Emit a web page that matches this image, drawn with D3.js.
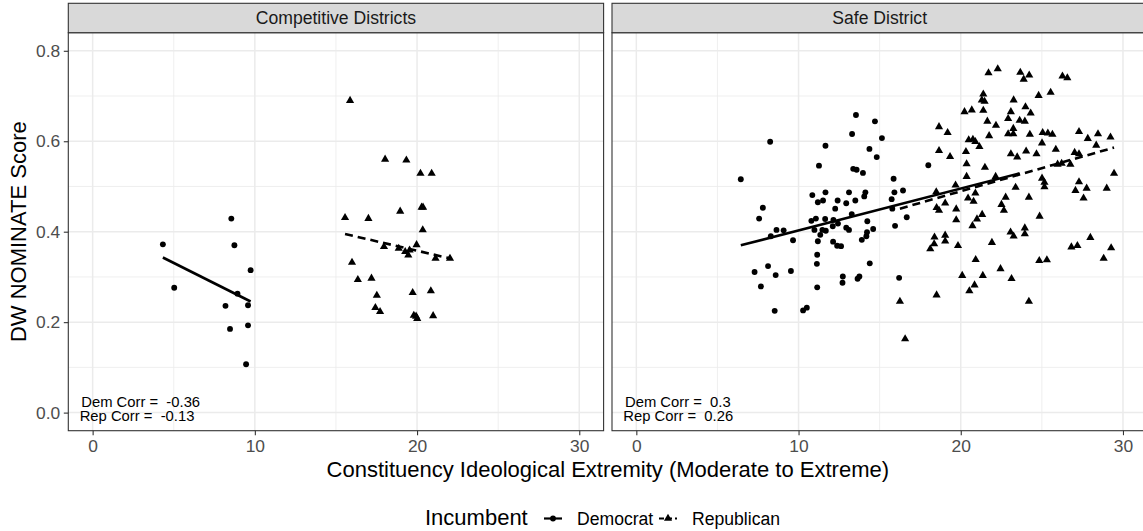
<!DOCTYPE html>
<html>
<head>
<meta charset="utf-8">
<script src="https://cdn.jsdelivr.net/npm/d3@7"></script>
<style>
  body { margin: 0; background: #ffffff; }
  svg { display: block; font-family: "Liberation Sans", Arial, Helvetica, sans-serif; }
</style>
</head>
<body>
<div id="vis"></div>
<script>
// ---- data ----
const PANELS = ["Competitive Districts", "Safe District"];

const compDemX = [4.33, 5.03, 8.55, 8.74, 9.74, 8.93, 8.19, 9.58, 8.47, 9.58, 9.46];
const compDemY = [0.372, 0.276, 0.429, 0.370, 0.315, 0.263, 0.236, 0.2375, 0.185, 0.193, 0.107];

const compRepX = [15.87, 18.03, 19.34, 20.21, 20.90, 20.37, 20.28, 18.96, 15.56, 17.00, 20.35, 19.97,
    17.96, 18.87, 19.27, 19.54, 19.46, 21.14, 22.03, 15.99, 17.19, 16.35, 19.73, 20.85, 17.52, 17.43,
    17.72, 19.80, 19.94, 20.01, 20.99];
const compRepY = [0.690, 0.560, 0.558, 0.529, 0.529, 0.454, 0.454, 0.445, 0.431, 0.429, 0.404, 0.371,
    0.367, 0.363, 0.356, 0.359, 0.348, 0.341, 0.341, 0.332, 0.297, 0.294, 0.265, 0.269, 0.259, 0.232,
    0.223, 0.215, 0.213, 0.208, 0.214];

const safeDemX = [6.44, 8.25, 7.80, 7.57, 8.64, 9.08, 8.29, 9.66, 7.29, 8.12, 7.68, 8.59, 9.53, 8.53,
    10.28, 10.51, 13.54, 14.71, 13.30, 15.14, 11.66, 14.37, 14.82, 11.26, 13.37, 13.58, 13.97, 15.86,
    18.00, 10.85, 11.66, 13.11, 14.12, 14.05, 15.91, 16.44, 11.19, 11.51, 12.41, 12.94, 13.50, 15.74,
    12.26, 15.78, 13.28, 10.79, 11.07, 11.64, 12.15, 12.43, 12.11, 10.98, 11.47, 11.68, 11.34, 12.94,
    13.11, 14.24, 14.60, 14.22, 14.18, 13.90, 15.95, 16.67, 11.19, 12.13, 12.38, 12.62, 11.15, 11.13,
    14.39, 12.73, 12.71, 13.75, 13.64, 11.15, 16.20];
const safeDemY = [0.516, 0.599, 0.453, 0.429, 0.404, 0.403, 0.390, 0.381, 0.311, 0.324, 0.279, 0.304,
    0.313, 0.225, 0.226, 0.232, 0.658, 0.644, 0.616, 0.607, 0.590, 0.583, 0.565, 0.546, 0.539, 0.537,
    0.530, 0.517, 0.547, 0.481, 0.487, 0.487, 0.487, 0.478, 0.487, 0.491, 0.465, 0.469, 0.469, 0.463,
    0.469, 0.472, 0.451, 0.451, 0.439, 0.424, 0.429, 0.428, 0.426, 0.418, 0.412, 0.404, 0.404, 0.402,
    0.393, 0.409, 0.404, 0.423, 0.406, 0.399, 0.390, 0.382, 0.413, 0.432, 0.379, 0.378, 0.369, 0.368,
    0.349, 0.329, 0.330, 0.301, 0.287, 0.301, 0.296, 0.277, 0.298];

const safeRepX = [21.71, 22.28, 23.67, 23.88, 24.22, 26.27, 26.57, 25.54, 24.80, 21.39, 21.30, 21.47,
    23.26, 23.99, 20.23, 20.68, 21.39, 23.09, 24.31, 22.92, 23.63, 23.95, 21.64, 22.17, 18.66, 19.19,
    23.24, 22.92, 23.24, 21.75, 24.26, 25.05, 25.37, 25.65, 27.29, 27.83, 28.46, 29.23, 20.49, 20.75,
    20.90, 21.15, 25.01, 28.35, 18.66, 20.32, 19.34, 23.09, 23.48, 24.03, 24.67, 25.86, 27.02, 27.29,
    20.36, 21.49, 25.97, 26.22, 26.76, 29.45, 20.36, 25.01, 25.16, 22.15, 25.16, 19.68, 23.38, 24.20,
    27.29, 27.07, 27.76, 27.57, 29.00, 20.90, 20.45, 20.79, 18.49, 19.04, 18.51, 18.66, 19.72, 22.77,
    22.51, 22.66, 21.32, 21.00, 19.72, 20.72, 24.86, 23.07, 23.26, 23.95, 23.95, 18.38, 19.04, 19.04,
    18.36, 18.12, 19.83, 21.92, 27.99, 26.82, 27.19, 29.27, 20.92, 24.84, 25.31, 28.81, 20.09, 21.36,
    22.45, 23.13, 20.85, 20.53, 18.51, 24.20, 16.25, 16.57];
const safeRepY = [0.751, 0.760, 0.752, 0.737, 0.746, 0.744, 0.740, 0.708, 0.701, 0.704, 0.691, 0.688,
    0.691, 0.676, 0.665, 0.669, 0.668, 0.665, 0.662, 0.650, 0.646, 0.644, 0.644, 0.635, 0.632, 0.619,
    0.628, 0.616, 0.616, 0.612, 0.615, 0.619, 0.618, 0.615, 0.621, 0.606, 0.616, 0.609, 0.603, 0.604,
    0.599, 0.588, 0.596, 0.591, 0.579, 0.577, 0.566, 0.572, 0.565, 0.578, 0.572, 0.582, 0.575, 0.572,
    0.550, 0.542, 0.549, 0.551, 0.549, 0.529, 0.522, 0.518, 0.509, 0.522, 0.499, 0.503, 0.498, 0.476,
    0.510, 0.491, 0.496, 0.474, 0.496, 0.485, 0.474, 0.467, 0.488, 0.463, 0.453, 0.447, 0.450, 0.476,
    0.460, 0.447, 0.438, 0.428, 0.426, 0.413, 0.434, 0.399, 0.390, 0.408, 0.395, 0.388, 0.392, 0.379,
    0.373, 0.362, 0.369, 0.376, 0.387, 0.366, 0.369, 0.364, 0.338, 0.336, 0.3375, 0.341, 0.303, 0.303,
    0.318, 0.296, 0.282, 0.269, 0.260, 0.246, 0.246, 0.163];

// linear fit end points (as drawn)
const compDemFitX = [4.33, 9.74], compDemFitY = [0.343, 0.2456];
const compRepFitX = [15.56, 22.03], compRepFitY = [0.395, 0.341];
const safeDemFitX = [6.44, 23.63], safeDemFitY = [0.370, 0.529];
const safeRepFitX = [16.25, 29.45], safeRepFitY = [0.451, 0.586];

const demCorr = ["-0.36", "0.3"];
const repCorr = ["-0.13", "0.26"];

const X_TICKS = [0, 10, 20, 30];
const X_MINOR = [5, 15, 25];
const Y_TICKS = [0, 0.2, 0.4, 0.6, 0.8];
const Y_MINOR = [0.1, 0.3, 0.5, 0.7];
const Y_LABELS = ["0.0", "0.2", "0.4", "0.6", "0.8"];

const LEGEND_TITLE = "Incumbent";
const LEGEND_LABELS = ["Democrat", "Republican"];

// ---- layout ----
const FRAME_WIDTH = 1143;
const FRAME_HEIGHT = 531;
const PANEL_LEFTS = [68.3, 612];
const PANEL_W = 535.3;
const STRIP_TOP = 3.3;
const PANEL_TOP = 32.7;
const PANEL_BOTTOM = 430.7;

const svg = d3.select("#vis").append("svg")
    .attr("width", FRAME_WIDTH)
    .attr("height", FRAME_HEIGHT);

const Y_SCALE = d3.scaleLinear().domain([-0.04, 0.84]).range([PANEL_BOTTOM, PANEL_TOP]);

const circle = d3.symbol().type(d3.symbolCircle).size(27);
const triangle = d3.symbol().type(d3.symbolTriangle).size(29);

function zip(xs, ys) { return xs.map((x, i) => ({x: x, y: ys[i]})); }

const panelData = [
    {dem: zip(compDemX, compDemY), rep: zip(compRepX, compRepY),
     demFit: zip(compDemFitX, compDemFitY), repFit: zip(compRepFitX, compRepFitY)},
    {dem: zip(safeDemX, safeDemY), rep: zip(safeRepX, safeRepY),
     demFit: zip(safeDemFitX, safeDemFitY), repFit: zip(safeRepFitX, safeRepFitY)}
];

panelData.forEach((pd, p) => {
    const left = PANEL_LEFTS[p];
    const X_SCALE = d3.scaleLinear().domain([-1.5, 31.5]).range([left, left + PANEL_W]);
    const g = svg.append("g");

    // background + grid
    g.append("rect").attr("x", left).attr("y", PANEL_TOP)
        .attr("width", PANEL_W).attr("height", PANEL_BOTTOM - PANEL_TOP).attr("fill", "#ffffff");
    g.selectAll(".vminor").data(X_MINOR).enter().append("line")
        .attr("x1", d => X_SCALE(d)).attr("x2", d => X_SCALE(d))
        .attr("y1", PANEL_TOP).attr("y2", PANEL_BOTTOM)
        .attr("stroke", "#EBEBEB").attr("stroke-width", 0.8);
    g.selectAll(".hminor").data(Y_MINOR).enter().append("line")
        .attr("x1", left).attr("x2", left + PANEL_W)
        .attr("y1", d => Y_SCALE(d)).attr("y2", d => Y_SCALE(d))
        .attr("stroke", "#EBEBEB").attr("stroke-width", 0.8);
    g.selectAll(".vmajor").data(X_TICKS).enter().append("line")
        .attr("x1", d => X_SCALE(d)).attr("x2", d => X_SCALE(d))
        .attr("y1", PANEL_TOP).attr("y2", PANEL_BOTTOM)
        .attr("stroke", "#EBEBEB").attr("stroke-width", 1.5);
    g.selectAll(".hmajor").data(Y_TICKS).enter().append("line")
        .attr("x1", left).attr("x2", left + PANEL_W)
        .attr("y1", d => Y_SCALE(d)).attr("y2", d => Y_SCALE(d))
        .attr("stroke", "#EBEBEB").attr("stroke-width", 1.5);

    // points
    g.selectAll(".dem").data(pd.dem).enter().append("path")
        .attr("d", circle)
        .attr("transform", d => "translate(" + X_SCALE(d.x) + "," + Y_SCALE(d.y) + ")")
        .attr("fill", "#000");
    g.selectAll(".rep").data(pd.rep).enter().append("path")
        .attr("d", triangle)
        .attr("transform", d => "translate(" + X_SCALE(d.x) + "," + Y_SCALE(d.y) + ")")
        .attr("fill", "#000");

    // fit lines
    const line = d3.line().x(d => X_SCALE(d.x)).y(d => Y_SCALE(d.y));
    g.append("path").attr("d", line(pd.demFit))
        .attr("fill", "none").attr("stroke", "#000").attr("stroke-width", 2.6);
    g.append("path").attr("d", line(pd.repFit))
        .attr("fill", "none").attr("stroke", "#000").attr("stroke-width", 2.6)
        .attr("stroke-dasharray", "8,5");

    // correlation notes
    g.append("text").attr("x", X_SCALE(-0.7)).attr("y", Y_SCALE(0.013))
        .attr("font-size", "14.8px").attr("fill", "#000")
        .attr("xml:space", "preserve").text("Dem Corr =  " + demCorr[p]);
    g.append("text").attr("x", X_SCALE(-0.8)).attr("y", Y_SCALE(-0.018))
        .attr("font-size", "14.8px").attr("fill", "#000")
        .attr("xml:space", "preserve").text("Rep Corr =  " + repCorr[p]);

    // panel border
    g.append("rect").attr("x", left).attr("y", PANEL_TOP)
        .attr("width", PANEL_W).attr("height", PANEL_BOTTOM - PANEL_TOP)
        .attr("fill", "none").attr("stroke", "#333333").attr("stroke-width", 1.1);

    // strip
    g.append("rect").attr("x", left).attr("y", STRIP_TOP)
        .attr("width", PANEL_W).attr("height", PANEL_TOP - STRIP_TOP)
        .attr("fill", "#D9D9D9").attr("stroke", "#333333").attr("stroke-width", 1.1);
    g.append("text").attr("x", left + PANEL_W / 2).attr("y", (STRIP_TOP + PANEL_TOP) / 2)
        .attr("dy", "0.36em").attr("text-anchor", "middle")
        .attr("font-size", "17.6px").attr("fill", "#1A1A1A").text(PANELS[p]);

    // x axis
    const xAxis = g.append("g")
        .attr("transform", "translate(0," + PANEL_BOTTOM + ")")
        .call(d3.axisBottom(X_SCALE).tickValues(X_TICKS).tickSize(4.5).tickPadding(4.8));
    xAxis.select(".domain").remove();
    xAxis.selectAll("line").attr("stroke", "#333333").attr("stroke-width", 1.1);
    xAxis.selectAll("text").attr("fill", "#4D4D4D").attr("font-size", "17.4px")
        .attr("font-family", null);

    // y axis only on the first panel
    if (p === 0) {
        const yAxis = g.append("g")
            .attr("transform", "translate(" + left + ",0)")
            .call(d3.axisLeft(Y_SCALE).tickValues(Y_TICKS)
                .tickFormat((d, i) => Y_LABELS[i]).tickSize(4.5).tickPadding(3.5));
        yAxis.select(".domain").remove();
        yAxis.selectAll("line").attr("stroke", "#333333").attr("stroke-width", 1.1);
        yAxis.selectAll("text").attr("fill", "#4D4D4D").attr("font-size", "17.4px")
            .attr("font-family", null);
    }
});

// axis titles
svg.append("text")
    .attr("x", (PANEL_LEFTS[0] + PANEL_LEFTS[1] + PANEL_W) / 2).attr("y", 477)
    .attr("text-anchor", "middle").attr("font-size", "22px").attr("fill", "#000")
    .text("Constituency Ideological Extremity (Moderate to Extreme)");
svg.append("text")
    .attr("transform", "translate(26," + ((PANEL_TOP + PANEL_BOTTOM) / 2) + ") rotate(-90)")
    .attr("text-anchor", "middle").attr("font-size", "22px").attr("fill", "#000")
    .text("DW NOMINATE Score");

// legend
const LEG_Y = 518.5;
const legend = svg.append("g");
legend.append("text").attr("x", 425).attr("y", 525)
    .attr("font-size", "22px").attr("fill", "#000").text(LEGEND_TITLE);
const keyX = [543, 658];
LEGEND_LABELS.forEach((lab, i) => {
    legend.append("line").attr("x1", keyX[i] + 1).attr("x2", keyX[i] + 19)
        .attr("y1", LEG_Y).attr("y2", LEG_Y)
        .attr("stroke", "#000").attr("stroke-width", 2.2)
        .attr("stroke-dasharray", i === 1 ? "5,3" : null);
    legend.append("path").attr("d", i === 0 ? circle : triangle)
        .attr("transform", "translate(" + (keyX[i] + 10) + "," + LEG_Y + ")")
        .attr("fill", "#000");
    legend.append("text").attr("x", keyX[i] + 34).attr("y", 525)
        .attr("font-size", "17.6px").attr("fill", "#000").text(lab);
});
</script>
</body>
</html>
